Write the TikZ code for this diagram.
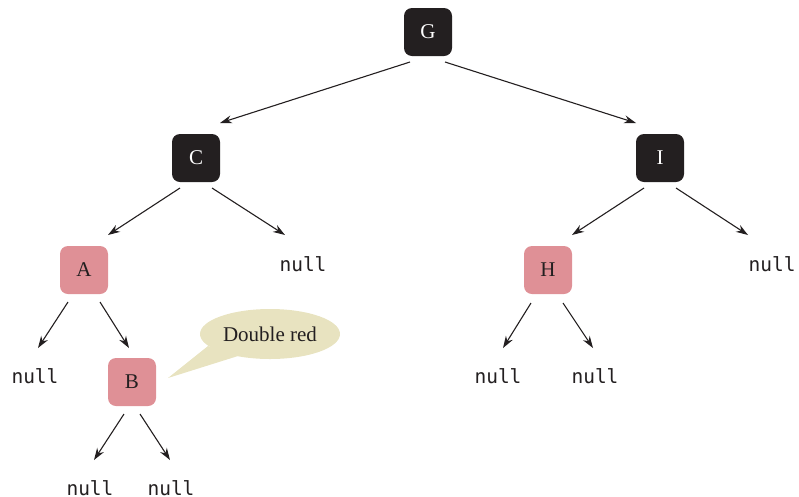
\documentclass[tikz,border=0pt]{standalone}
\usepackage{fontspec}
\setmainfont{Liberation Serif}
\setmonofont{DejaVu Sans Mono}
\usetikzlibrary{arrows.meta,calc,shapes.geometric}
\definecolor{blk}{HTML}{231F20}
\definecolor{redn}{HTML}{DF9096}
\definecolor{bub}{HTML}{E8E3C0}
\definecolor{txt}{HTML}{231F20}
\tikzset{
  blacknode/.style={fill=blk,text=white,rounded corners=8pt,minimum size=48pt,inner sep=0pt,font=\fontsize{21}{21}\selectfont},
  rednode/.style={fill=redn,text=txt,rounded corners=8pt,minimum size=48pt,inner sep=0pt,font=\fontsize{21}{21}\selectfont},
  nulllbl/.style={text=txt,inner sep=0pt,font=\ttfamily\fontsize{19.5}{19.5}\selectfont},
  arr/.style={draw=txt,line width=1.1pt,-{Stealth[length=12pt,width=8pt]}},
}
\begin{document}
\begin{tikzpicture}[x=1pt,y=-1pt]
\useasboundingbox (0,0) rectangle (799,496);
\node[blacknode] (G) at (428,32) {G};
\node[blacknode] (C) at (196,158) {C};
\node[blacknode] (I) at (660,158) {I};
\node[rednode] (A) at (84,270) {A};
\node[rednode] (H) at (548,270) {H};
\node[rednode] (B) at (132,382) {B};
\node[nulllbl] (nC) at (303,264) {null};
\node[nulllbl] (nI) at (772,264) {null};
\node[nulllbl] (nA) at (35,376) {null};
\node[nulllbl] (nB1) at (90,488) {null};
\node[nulllbl] (nB2) at (171,488) {null};
\node[nulllbl] (nH1) at (498,376) {null};
\node[nulllbl] (nH2) at (595,376) {null};
% bubble
\node[ellipse,fill=bub,minimum width=140pt,minimum height=50pt,inner sep=0pt,text=txt,font=\fontsize{21}{21}\selectfont] (bubble) at (270,334) {Double red};
\fill[bub] ($(bubble)+(-62,12)$) -- ($(B)+(36,-4)$) -- ($(bubble)+(-32,22)$) -- cycle;
% arrows
\draw[arr] ($(G)+(-18,30)$) -- ($(C)+(24,-35)$);
\draw[arr] ($(G)+(17,30)$) -- ($(I)+(-24,-35)$);
\draw[arr] ($(C)+(-16,30)$) -- ($(A)+(24,-35)$);
\draw[arr] ($(C)+(16,30)$) -- ($(nC)+(-18,-29)$);
\draw[arr] ($(I)+(-16,30)$) -- ($(H)+(24,-35)$);
\draw[arr] ($(I)+(16,30)$) -- ($(nI)+(-24,-29)$);
\draw[arr] ($(A)+(-16,32)$) -- ($(nA)+(3,-28)$);
\draw[arr] ($(A)+(16,32)$) -- ($(B)+(-3,-34)$);
\draw[arr] ($(B)+(-8,32)$) -- ($(nB1)+(4,-28)$);
\draw[arr] ($(B)+(8,32)$) -- ($(nB2)+(-1,-28)$);
\draw[arr] ($(H)+(-17,33)$) -- ($(nH1)+(5,-28)$);
\draw[arr] ($(H)+(15,33)$) -- ($(nH2)+(-2,-28)$);
\end{tikzpicture}
\end{document}
